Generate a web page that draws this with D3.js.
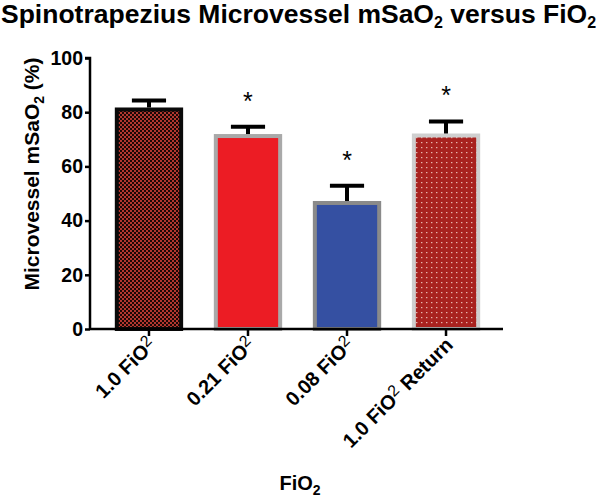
<!DOCTYPE html>
<html lang="en">
<head>
    <meta charset="UTF-8">
    <title>Spinotrapezius Microvessel mSaO2 versus FiO2</title>
    <script src="https://d3js.org/d3.v7.min.js"></script>
    <style>
        body {margin: 0; background: white;}
        text {font-family: "Liberation Sans", Arial, sans-serif; font-weight: bold;}
    </style>
</head>
<body>
<script>
    const width = 600;
    const height = 499;

    // data
    const groups = ["1.0 FiO2", "0.21 FiO2", "0.08 FiO2", "1.0 FiO2 Return"];
    const means = [81, 71.2, 46.5, 71.4];
    const sems = [3.3, 3.4, 6.4, 5.2];
    const signif = [false, true, true, true];
    const yTicks = [0, 20, 40, 60, 80, 100];

    const margin = {left: 90, top: 58, right: 97, bottom: 170};

    const svg = d3.select("body").append("svg")
            .attr("width", width).attr("height", height);

    const defs = svg.append("defs");
    // checkered pattern for first bar
    const chk = defs.append("pattern").attr("id", "checker")
            .attr("width", 4).attr("height", 4).attr("patternUnits", "userSpaceOnUse");
    chk.append("rect").attr("width", 4).attr("height", 4).attr("fill", "#1a0806");
    chk.append("rect").attr("width", 2).attr("height", 2).attr("fill", "#b3372f");
    chk.append("rect").attr("x", 2).attr("y", 2).attr("width", 2).attr("height", 2).attr("fill", "#b3372f");
    // dotted pattern for last bar
    const dots = defs.append("pattern").attr("id", "dots")
            .attr("width", 5).attr("height", 5).attr("patternUnits", "userSpaceOnUse");
    dots.append("rect").attr("width", 5).attr("height", 5).attr("fill", "#a8221f");
    dots.append("rect").attr("x", 1).attr("y", 2).attr("width", 1.4).attr("height", 1.2).attr("fill", "#e8b4ae");

    const fills = ["url(#checker)", "#ec1c24", "#3550a2", "url(#dots)"];
    const strokes = ["#0a0a0a", "#a9a9a9", "#8a8a8a", "#cfcfcf"];

    const x = d3.scaleBand().domain(groups)
            .range([margin.left + 6, width - margin.right - 4]).paddingInner(0.31).paddingOuter(0.19);
    const y = d3.scaleLinear().domain([0, 100]).range([329, margin.top]);

    // bars
    svg.selectAll("rect.bar")
            .data(groups)
            .enter()
            .append("rect")
            .attr("class", "bar")
            .attr("x", d => x(d) + 2)
            .attr("width", x.bandwidth() - 4)
            .attr("y", (d, i) => y(means[i]))
            .attr("height", (d, i) => y(0) - y(means[i]))
            .style("fill", (d, i) => fills[i])
            .style("stroke", (d, i) => strokes[i])
            .style("stroke-width", 4);

    // error bars
    const err = svg.selectAll("g.err")
            .data(groups)
            .enter()
            .append("g")
            .attr("class", "err");
    err.append("line")
            .attr("x1", d => x(d) + x.bandwidth() / 2)
            .attr("x2", d => x(d) + x.bandwidth() / 2)
            .attr("y1", (d, i) => y(means[i]) - 2)
            .attr("y2", (d, i) => y(means[i] + sems[i]))
            .style("stroke", "black").style("stroke-width", 4);
    err.append("line")
            .attr("x1", d => x(d) + x.bandwidth() / 4)
            .attr("x2", d => x(d) + x.bandwidth() * 3 / 4)
            .attr("y1", (d, i) => y(means[i] + sems[i]))
            .attr("y2", (d, i) => y(means[i] + sems[i]))
            .style("stroke", "black").style("stroke-width", 4);

    // significance stars
    svg.selectAll("text.star")
            .data(groups.filter((d, i) => signif[i]))
            .enter()
            .append("text")
            .attr("class", "star")
            .attr("x", d => x(d) + x.bandwidth() / 2)
            .attr("y", d => { const i = groups.indexOf(d); return y(means[i] + sems[i]) - 17; })
            .attr("text-anchor", "middle")
            .style("font-size", "25px")
            .style("font-weight", "normal")
            .text("*");

    // y axis
    const yAxis = svg.append("g")
            .attr("transform", `translate(${margin.left},0)`)
            .call(d3.axisLeft(y).tickValues(yTicks).tickSize(5).tickPadding(2));
    yAxis.select(".domain").style("stroke-width", 2.5).attr("d", `M-5,${y(100)}H0V${y(0)}`);
    yAxis.selectAll(".tick line").style("stroke-width", 2.5);
    yAxis.selectAll(".tick text").style("font-size", "19.5px").style("font-family", "Liberation Sans, Arial, sans-serif").attr("fill", "black");

    // x axis
    const xAxis = svg.append("g")
            .attr("transform", `translate(0,${y(0)})`)
            .call(d3.axisBottom(x).tickSize(7).tickFormat(""));
    xAxis.select(".domain").style("stroke-width", 2.5).attr("d", `M${margin.left},0H${width - margin.right}`);
    xAxis.selectAll(".tick line").style("stroke-width", 2.5);

    // rotated category labels with raised "2"
    const xl = svg.selectAll("text.xlab")
            .data(groups)
            .enter()
            .append("text")
            .attr("class", "xlab")
            .attr("text-anchor", "end")
            .attr("transform", d => `translate(${x(d) + x.bandwidth() / 2 + 8},${y(0) + 17}) rotate(-45)`)
            .style("font-size", "20px");
    xl.each(function (d) {
        const t = d3.select(this);
        const parts = d.split("FiO2");
        t.append("tspan").text(parts[0] + "FiO");
        t.append("tspan").attr("dy", -6).style("font-size", "16px").style("font-weight", "normal").text("2");
        if (parts[1]) t.append("tspan").attr("dy", 6).text(parts[1]);
    });

    // title
    const title = svg.append("text")
            .attr("x", 1).attr("y", 23)
            .style("font-size", "26.5px");
    title.append("tspan").text("Spinotrapezius Microvessel mSaO");
    title.append("tspan").attr("dy", 5).style("font-size", "16px").text("2");
    title.append("tspan").attr("dy", -5).text(" versus FiO");
    title.append("tspan").attr("dy", 5).style("font-size", "16px").text("2");

    // y axis title
    const yt = svg.append("text")
            .attr("transform", `translate(39,174) rotate(-90)`)
            .attr("text-anchor", "middle")
            .style("font-size", "21px");
    yt.append("tspan").text("Microvessel mSaO");
    yt.append("tspan").attr("dy", 5).style("font-size", "14px").text("2");
    yt.append("tspan").attr("dy", -5).text(" (%)");

    // x axis title
    const xt = svg.append("text")
            .attr("x", 300).attr("y", 490)
            .attr("text-anchor", "middle")
            .style("font-size", "20px");
    xt.append("tspan").text("FiO");
    xt.append("tspan").attr("dy", 5).style("font-size", "14px").text("2");
</script>

</body>
</html>
